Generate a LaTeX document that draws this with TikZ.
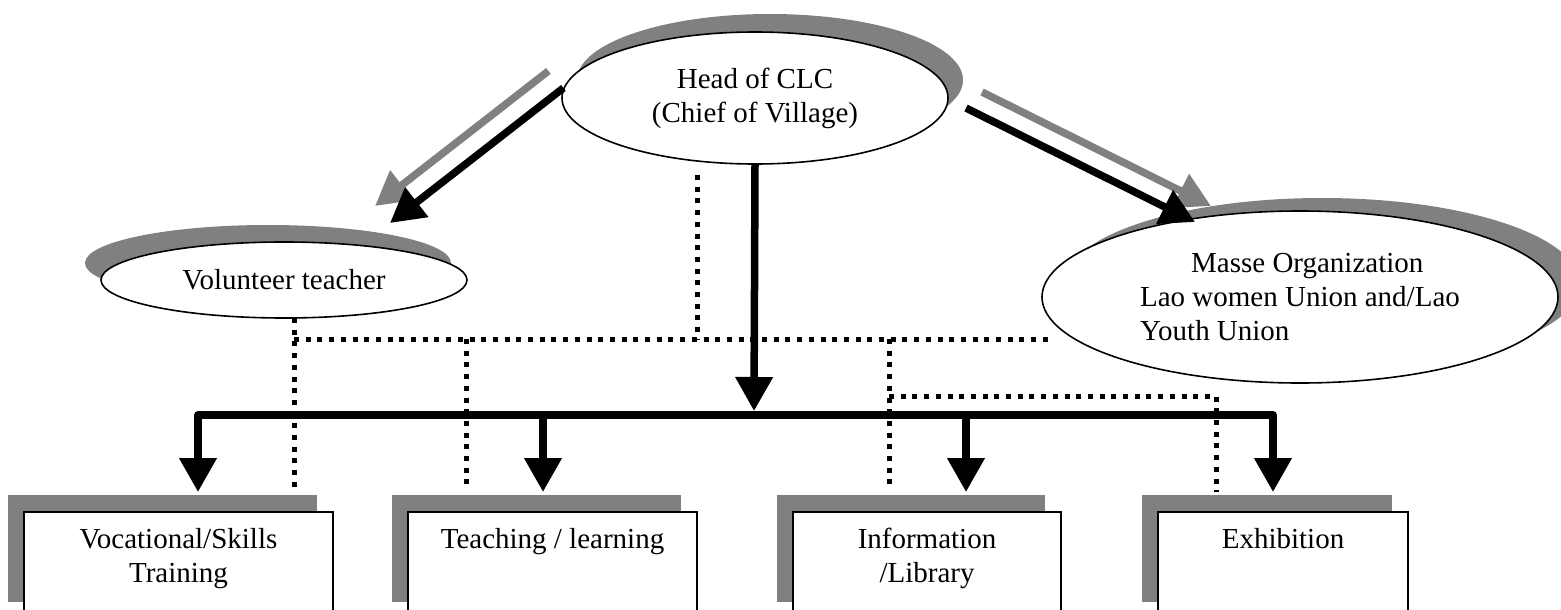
\documentclass[tikz,border=0pt]{standalone}
\usepackage{fontspec}
\setmainfont{Liberation Serif}
\usetikzlibrary{arrows.meta,shapes.geometric,shadows}
\definecolor{shadowgray}{HTML}{808080}

\begin{document}
\begin{tikzpicture}[x=1pt, y=-1pt,
		font=\fontsize{29pt}{34pt}\selectfont,
		>={Triangle[length=34pt, width=36pt]},
		oval/.style={draw, ellipse, fill=white, line width=1.6pt, inner sep=0pt, align=center},
		unit/.style={draw, rectangle, fill=white, line width=1.6pt, anchor=north, align=center,
			inner xsep=0pt, inner ysep=17pt, text height=20pt, text depth=53pt, lshadow},
		twoline/.style={text height=54pt, text depth=19pt},
		lshadow/.style={drop shadow={shadow xshift=-16pt, shadow yshift=17pt, fill=shadowgray, opacity=1}},
		rshadow/.style={drop shadow={shadow xshift=15pt, shadow yshift=18pt, fill=shadowgray, opacity=1}},
		flow/.style={line width=7.5pt, ->},
		ghost/.style={flow, shadowgray},
		link/.style={line width=5pt, dash pattern=on 5pt off 6.7pt}]
		\useasboundingbox (0,0) rectangle (1561,610);

		\node[oval, rshadow, minimum width=386pt, minimum height=132pt] (head) at (755,98) {Head of CLC\\(Chief of Village)};
		\node[oval, lshadow, minimum width=366pt, minimum height=76pt] (vol) at (284,280) {Volunteer teacher};
		\node[oval, minimum width=516pt, minimum height=172pt, align=left,
			drop shadow={shadow xshift=22pt, shadow yshift=13pt, fill=shadowgray, opacity=1}] (masse) at (1300,297)
			{\hspace*{1.76em}Masse Organization\\Lao women Union and/Lao\\Youth Union};

		\node[unit, twoline, minimum width=309pt] (voc) at (178.5,511) {Vocational/Skills\\Training};
		\node[unit, minimum width=289pt] (teach) at (552.5,511) {Teaching / learning};
		\node[unit, twoline, minimum width=268pt] (info) at (927,511) {Information\\/Library};
		\node[unit, minimum width=250pt] (exh) at (1283,511) {Exhibition};

		\coordinate (vt) at (390,223);
		\coordinate (hr) at (966,108);
		\coordinate (mt) at (1195,222);
		\coordinate (hub) at (754,411);
		\coordinate (b1) at (198,415);
		\coordinate (b2) at (543,415);
		\coordinate (b3) at (966,415);
		\coordinate (b4) at (1273,415);
		\coordinate (t1) at (198,492);
		\coordinate (t2) at (543,492);
		\coordinate (t3) at (966,492);
		\coordinate (t4) at (1273,492);

		\coordinate (v0) at (294,318);
		\coordinate (v1) at (294,488);
		\coordinate (s1) at (1054,339);
		\coordinate (h0) at (697,175);
		\coordinate (p1) at (466,339);
		\coordinate (p2) at (466,485);
		\coordinate (q1) at (889,339);
		\coordinate (q2) at (889,485);
		\coordinate (e0) at (889,396);
		\coordinate (e1) at (1216,492);

		\draw[link] (v0) -- (v1);
		\draw[link] (v1 |- s1) -- (s1);
		\draw[link] (h0) -- (h0 |- s1);
		\draw[link] (p1) -- (p2);
		\draw[link] (q1) -- (q2);
		\draw[link] (e0) -| (e1);

		\draw[ghost] ([shift={(-15,-17)}]head.177) -- ([shift={(-15,-17)}]vt);
		\draw[ghost] ([shift={(16,-16)}]hr) -- ([shift={(16,-16)}]mt);
		\draw[flow] (head.177) -- (vt);
		\draw[flow] (hr) -- (mt);

		\draw[flow] (head.south) -- (hub);
		\draw[flow, <->, line join=round] (t1) -- (b1) -- (b4) -- (t4);
		\draw[flow] (b2) -- (t2);
		\draw[flow] (b3) -- (t3);
	\end{tikzpicture}
\end{document}
